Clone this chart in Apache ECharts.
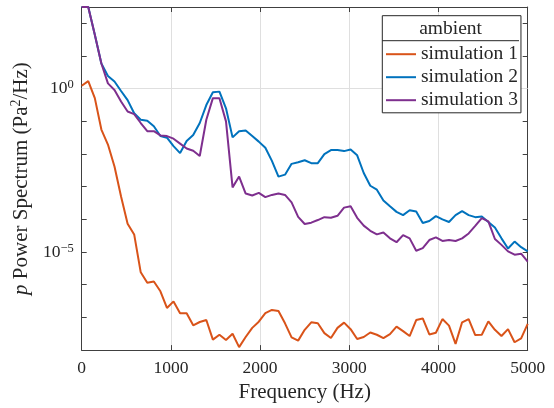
<!DOCTYPE html>
<html><head><meta charset="utf-8">
<script src="https://cdn.jsdelivr.net/npm/echarts@6/dist/echarts.min.js"></script>
<style>html,body{margin:0;padding:0;background:#fff}#c{width:554px;height:408px}</style>
</head><body><div id="c"></div>
<script>
const freq = [0, 73.5, 147.1, 220.6, 294.1, 367.6, 441.2, 514.7, 588.2, 661.8, 735.3, 808.8, 882.4, 955.9, 1029.4, 1102.9, 1176.5, 1250, 1323.5, 1397.1, 1470.6, 1544.1, 1617.6, 1691.2, 1764.7, 1838.2, 1911.8, 1985.3, 2058.8, 2132.4, 2205.9, 2279.4, 2352.9, 2426.5, 2500, 2573.5, 2647.1, 2720.6, 2794.1, 2867.6, 2941.2, 3014.7, 3088.2, 3161.8, 3235.3, 3308.8, 3382.4, 3455.9, 3529.4, 3602.9, 3676.5, 3750, 3823.5, 3897.1, 3970.6, 4044.1, 4117.6, 4191.2, 4264.7, 4338.2, 4411.8, 4485.3, 4558.8, 4632.4, 4705.9, 4779.4, 4852.9, 4926.5, 5000];
const sim1 = [1.23, 1.70, 0.513, 5.62e-2, 1.95e-2, 4.17e-3, 5.0e-4, 7.41e-5, 3.47e-5, 2.40e-6,
  1.15e-6, 1.26e-6, 6.31e-7, 1.95e-7, 3.09e-7, 1.35e-7, 1.35e-7, 5.75e-8, 7.24e-8, 8.32e-8,
  2.09e-8, 2.95e-8, 2.04e-8, 3.16e-8, 1.23e-8, 2.51e-8, 4.79e-8, 7.41e-8, 1.35e-7, 1.70e-7,
  1.58e-7, 6.61e-8, 2.45e-8, 1.95e-8, 4.17e-8, 7.08e-8, 6.61e-8, 3.31e-8, 2.34e-8, 4.79e-8,
  6.92e-8, 4.37e-8, 2.19e-8, 2.51e-8, 3.47e-8, 2.95e-8, 2.34e-8, 3.09e-8, 5.25e-8, 3.80e-8,
  2.69e-8, 8.32e-8, 9.33e-8, 3.02e-8, 3.39e-8, 8.91e-8, 5.62e-8, 1.55e-8, 7.08e-8, 8.91e-8,
  2.88e-8, 2.95e-8, 7.59e-8, 4.17e-8, 2.69e-8, 4.37e-8, 1.74e-8, 2.29e-8, 6.31e-8];
const sim2 = [316, 316, 44.7, 5.89, 2.45, 1.66, 0.851, 0.447, 0.178, 0.112,
  0.105, 0.0708, 0.0355, 0.0316, 0.0174, 0.0107, 0.0251, 0.0380, 0.0891, 0.316,
  0.776, 0.813, 0.251, 0.0324, 0.0501, 0.0525, 0.0355, 0.0240, 0.0155, 6.17e-3,
  2.04e-3, 2.34e-3, 5.01e-3, 5.62e-3, 6.46e-3, 5.25e-3, 5.25e-3, 1.00e-2, 0.0132, 0.0132,
  0.0123, 0.0138, 9.12e-3, 2.63e-3, 1.07e-3, 8.13e-4, 3.80e-4, 2.51e-4, 1.70e-4, 1.35e-4,
  1.91e-4, 1.74e-4, 7.76e-5, 8.91e-5, 1.26e-4, 1.00e-4, 8.32e-5, 1.35e-4, 1.78e-4, 1.35e-4,
  1.17e-4, 1.23e-4, 8.32e-5, 5.62e-5, 2.63e-5, 1.29e-5, 2.09e-5, 1.41e-5, 1.05e-5];
const sim3 = [316, 316, 44.7, 5.89, 1.45, 0.912, 0.407, 0.200, 0.166, 0.0891,
  0.0501, 0.0501, 0.0372, 0.0355, 0.0295, 0.0209, 0.0148, 0.0126, 8.71e-3, 0.112,
  0.513, 0.513, 0.100, 9.55e-4, 2.04e-3, 6.17e-4, 5.37e-4, 6.46e-4, 4.79e-4, 5.62e-4,
  6.17e-4, 5.62e-4, 3.31e-4, 1.20e-4, 7.24e-5, 7.94e-5, 9.55e-5, 1.17e-4, 1.12e-4, 1.29e-4,
  2.29e-4, 2.51e-4, 1.12e-4, 6.46e-5, 4.47e-5, 3.47e-5, 3.98e-5, 2.63e-5, 2.00e-5, 3.31e-5,
  2.63e-5, 1.10e-5, 1.32e-5, 2.34e-5, 2.82e-5, 2.19e-5, 2.34e-5, 2.19e-5, 2.63e-5, 3.72e-5,
  6.31e-5, 1.10e-4, 8.71e-5, 2.51e-5, 1.66e-5, 1.05e-5, 8.32e-6, 8.91e-6, 5.13e-6];
const seriesNames = ['simulation 1', 'simulation 2', 'simulation 3'];
const seriesColors = ['#D95319', '#0072BD', '#7E2F8E'];
const legendTitle = 'ambient';
const yLabelTicks = [1e-5, 1];
const yMinorTicks = [1e-8, 1e-7, 1e-6, 1e-5, 1e-4, 1e-3, 1e-2, 1e-1, 1, 10, 100];
const yGridValues = [1, 1e-5];
const yMin = 1e-8, yMax = 316.2278;
const xMin = 0, xMax = 5000, xStep = 1000;

const FONT = '"Liberation Serif", "DejaVu Serif", serif';
const AX = '#404040', TXT = '#262626', GRID = '#dfdfdf';

function supLabel(v) {
  const e = Math.round(Math.log10(v));
  return '{b|10}{s|' + (e < 0 ? '\u2212' + (-e) : e) + '}';
}

const chart = echarts.init(document.getElementById('c'), null, {renderer: 'canvas'});
const series = [sim1, sim2, sim3].map((arr, k) => ({
  name: seriesNames[k], type: 'line', xAxisIndex: 0, yAxisIndex: 0,
  data: freq.map((f, i) => [f, arr[i]]),
  symbol: 'none', showSymbol: false, clip: true,
  lineStyle: {width: 2, color: seriesColors[k]}, itemStyle: {color: seriesColors[k]},
  z: 3 + k
}));
series[0].markLine = {
  silent: true, symbol: 'none', z: 1, animation: false,
  label: {show: false},
  lineStyle: {color: GRID, type: 'solid', width: 1},
  emphasis: {disabled: true},
  data: yGridValues.map(v => ({yAxis: v}))
};

chart.setOption({
  animation: false,
  color: seriesColors,
  grid: {left: 81.7, right: 26.3, top: 7, bottom: 53.5, containLabel: false},
  xAxis: [{
    type: 'value', min: xMin, max: xMax, interval: xStep, position: 'bottom',
    axisLine: {show: true, onZero: false, lineStyle: {color: AX, width: 1}},
    axisTick: {show: true, inside: true, length: 5, lineStyle: {color: AX}},
    axisLabel: {fontFamily: FONT, fontSize: 17.5, color: TXT, margin: 9, formatter: v => String(v)},
    splitLine: {show: true, lineStyle: {color: GRID, width: 1}},
    name: 'Frequency (Hz)', nameLocation: 'middle', nameGap: 31,
    nameTextStyle: {fontFamily: FONT, fontSize: 21, color: TXT}
  }, {
    type: 'value', min: xMin, max: xMax, interval: xStep, position: 'top',
    axisLine: {show: true, onZero: false, lineStyle: {color: AX, width: 1}},
    axisTick: {show: true, inside: true, length: 5, lineStyle: {color: AX}},
    axisLabel: {show: false}, splitLine: {show: false}
  }],
  yAxis: [{
    type: 'log', logBase: 10, min: yMin, max: yMax, position: 'left',
    axisLine: {show: true, onZero: false, lineStyle: {color: AX, width: 1}},
    axisTick: {show: true, inside: true, length: 5, lineStyle: {color: AX}, customValues: yMinorTicks},
    axisLabel: {
      customValues: yLabelTicks, margin: 8, formatter: supLabel,
      rich: {
        b: {fontFamily: FONT, fontSize: 17.5, color: TXT, lineHeight: 20},
        s: {fontFamily: FONT, fontSize: 12.5, color: TXT, lineHeight: 14, verticalAlign: 'top'}
      }
    },
    splitLine: {show: false}, minorTick: {show: false},
    name: '{i|p} Power Spectrum (Pa{s|2}/Hz)', nameLocation: 'middle', nameGap: 44, nameRotate: 90,
    nameTextStyle: {
      fontFamily: FONT, fontSize: 21, color: TXT,
      rich: {
        i: {fontFamily: FONT, fontSize: 21, color: TXT, fontStyle: 'italic', lineHeight: 24},
        s: {fontFamily: FONT, fontSize: 14, color: TXT, lineHeight: 16, verticalAlign: 'top'}
      }
    }
  }, {
    type: 'log', logBase: 10, min: yMin, max: yMax, position: 'right',
    axisLine: {show: true, onZero: false, lineStyle: {color: AX, width: 1}},
    axisTick: {show: true, inside: true, length: 5, lineStyle: {color: AX}, customValues: yMinorTicks},
    axisLabel: {show: false}, splitLine: {show: false}
  }],
  legend: {
    orient: 'vertical', align: 'left', left: 382.3, top: 15.7,
    padding: [28.5, 3, 2.6, 3.7],
    itemGap: 3.0, itemWidth: 30, itemHeight: 2, icon: 'rect',
    backgroundColor: '#fff', borderColor: '#262626', borderWidth: 1,
    textStyle: {fontFamily: FONT, fontSize: 19.5, color: TXT},
    data: seriesNames, selectedMode: false
  },
  graphic: [{
    type: 'line', z: 100, silent: true,
    shape: {x1: 382.3, y1: 40.7, x2: 519, y2: 40.7},
    style: {stroke: '#262626', lineWidth: 1}
  }, {
    type: 'text', z: 100, silent: true, x: 450.6, y: 28.5,
    style: {text: legendTitle, font: '19.5px ' + FONT, fill: TXT, textAlign: 'center', textVerticalAlign: 'middle'}
  }],
  series: series
});
</script></body></html>
